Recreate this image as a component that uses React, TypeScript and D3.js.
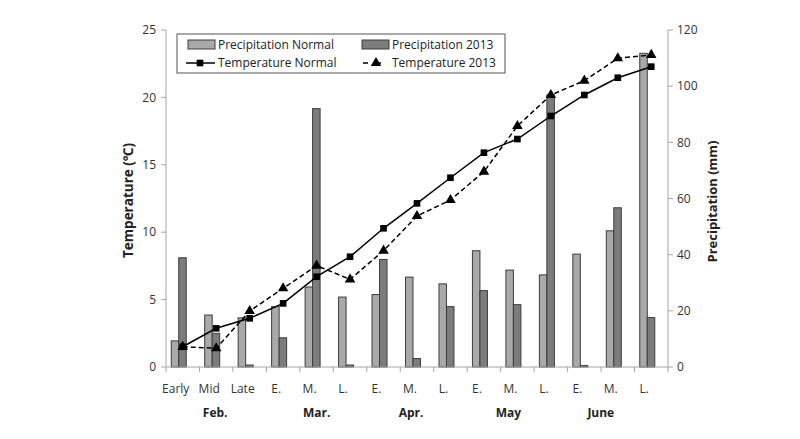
import React from 'react';
import * as d3 from 'd3';

const categories = ['Early', 'Mid', 'Late', 'E.', 'M.', 'L.', 'E.', 'M.', 'L.', 'E.', 'M.', 'L.', 'E.', 'M.', 'L.'];
const months = ['Feb.', 'Mar.', 'Apr.', 'May', 'June'];

const precipNormal = [9.3, 18.5, 17.5, 21.5, 28.5, 24.9, 25.8, 32, 29.6, 41.4, 34.5, 32.8, 40.2, 48.5, 111.7];
const precip2013 = [38.9, 12, 0.7, 10.4, 92, 0.7, 38.3, 3, 21.5, 27.2, 22.2, 96.9, 0.5, 56.7, 17.6];

const tempNormal = [1.5, 2.87, 3.61, 4.72, 6.7, 8.18, 10.29, 12.14, 14.04, 15.9, 16.91, 18.62, 20.18, 21.46, 22.28];
const temp2013 = [1.5, 1.39, 4.15, 5.84, 7.52, 6.5, 8.63, 11.2, 12.39, 14.49, 17.88, 20.18, 21.24, 22.9, 23.15];

const tempTicks = [0, 5, 10, 15, 20, 25];
const precipTicks = [0, 20, 40, 60, 80, 100, 120];

const W = 800;
const H = 439;
const left = 166;
const right = 668;
const top = 30;
const bottom = 367;
const font = '"Open Sans", "Noto Sans", sans-serif';
const axisColor = '#a6a6a6';

export default function App() {
  const idx = categories.map((_, i) => i);
  const x = d3.scaleBand<number>().domain(idx).range([left, right]).padding(0);
  const bw = x.bandwidth();
  const cx = (i: number) => (x(i) as number) + bw / 2;
  const yT = d3.scaleLinear().domain([0, 25]).range([bottom, top]);
  const yP = d3.scaleLinear().domain([0, 120]).range([bottom, top]);

  const barW = 7.5;
  const barShift = -4;

  const line = d3.line<number>().x((_, i) => cx(i)).y(d => yT(d));

  const tri = d3.symbol().type(d3.symbolTriangle).size(48)();
  const sq = d3.symbol().type(d3.symbolSquare).size(44)();

  const boundaries = d3.range(categories.length + 1).map(i => left + i * bw);
  const monthNudge = [-1, 0, -6, -9, -17];

  return (
    <div style={{ position: 'absolute', left: 0, top: 0 }}>
      <svg width={W} height={H} style={{ display: 'block', background: '#fff' }} fontFamily={font}>
        {/* bars */}
        {precipNormal.map((v, i) => (
          <rect key={'n' + i} x={cx(i) + barShift - barW} y={yP(v)} width={barW} height={bottom - yP(v)}
            fill="#a9a9a9" stroke="#3c3c3c" strokeWidth={1} />
        ))}
        {precip2013.map((v, i) => (
          <rect key={'p' + i} x={cx(i) + barShift} y={yP(v)} width={barW} height={bottom - yP(v)}
            fill="#7c7c7c" stroke="#3c3c3c" strokeWidth={1} />
        ))}

        {/* axes */}
        <line x1={left} x2={left} y1={top} y2={bottom} stroke={axisColor} />
        <line x1={right} x2={right} y1={top} y2={bottom} stroke={axisColor} />
        <line x1={left} x2={right} y1={bottom} y2={bottom} stroke={axisColor} />
        {tempTicks.map(t => (
          <g key={'lt' + t}>
            <line x1={left - 5} x2={left} y1={yT(t)} y2={yT(t)} stroke={axisColor} />
            <text x={left - 10} y={yT(t)} dy="0.35em" textAnchor="end" fontSize={12} fill="#333">{t}</text>
          </g>
        ))}
        {precipTicks.map(t => (
          <g key={'rt' + t}>
            <line x1={right} x2={right + 5} y1={yP(t)} y2={yP(t)} stroke={axisColor} />
            <text x={right + 9} y={yP(t)} dy="0.35em" textAnchor="start" fontSize={12} fill="#333">{t}</text>
          </g>
        ))}
        {boundaries.map((b, i) => (
          <line key={'xt' + i} x1={b} x2={b} y1={bottom} y2={bottom + 5} stroke={axisColor} />
        ))}
        {categories.map((c, i) => (
          <text key={'c' + i} x={cx(i) - 7} y={bottom + 26} textAnchor="middle" fontSize={12} fill="#333">{c}</text>
        ))}
        {months.map((m, g) => (
          <text key={'m' + g} x={cx(g * 3 + 1) + monthNudge[g]} y={bottom + 50} textAnchor="middle"
            fontSize={12} fontWeight="bold" fill="#222">{m}</text>
        ))}

        {/* axis titles */}
        <text transform={`translate(133,${(top + bottom) / 2 + 2}) rotate(-90)`} textAnchor="middle"
          fontSize={13.5} fontWeight="bold" fill="#222">Temperature (℃)</text>
        <text transform={`translate(717,${(top + bottom) / 2 + 3}) rotate(-90)`} textAnchor="middle"
          fontSize={13} fontWeight="bold" fill="#222">Precipitation  (mm)</text>

        {/* lines */}
        <path d={line(tempNormal) || ''} fill="none" stroke="#000" strokeWidth={1.5} />
        <path d={line(temp2013) || ''} fill="none" stroke="#000" strokeWidth={1.5} strokeDasharray="5,3" />
        {tempNormal.map((v, i) => (
          <path key={'sq' + i} d={sq || ''} transform={`translate(${cx(i)},${yT(v)})`} fill="#000" />
        ))}
        {temp2013.map((v, i) => (
          <path key={'tr' + i} d={tri || ''} transform={`translate(${cx(i)},${yT(v)})`} fill="#000" />
        ))}

        {/* legend */}
        <rect x={177} y={34} width={328} height={39} fill="#fff" stroke="#555" strokeWidth={1} />
        <rect x={188} y={40} width={27} height={9} fill="#a9a9a9" stroke="#3c3c3c" />
        <text x={218} y={45} dy="0.35em" fontSize={12} fill="#222">Precipitation Normal</text>
        <rect x={362} y={40} width={27} height={9} fill="#7c7c7c" stroke="#3c3c3c" />
        <text x={392} y={45} dy="0.35em" fontSize={12} fill="#222">Precipitation 2013</text>
        <line x1={186} x2={215} y1={63} y2={63} stroke="#000" strokeWidth={1.5} />
        <path d={sq || ''} transform="translate(200,63)" fill="#000" />
        <text x={218} y={63} dy="0.35em" fontSize={12} fill="#222">Temperature Normal</text>
        <line x1={362} x2={389} y1={63} y2={63} stroke="#000" strokeWidth={1.5} strokeDasharray="5,8" strokeDashoffset={-1} />
        <path d={tri || ''} transform="translate(376,63)" fill="#000" />
        <text x={392} y={63} dy="0.35em" fontSize={12} fill="#222">Temperature 2013</text>
      </svg>
    </div>
  );
}
